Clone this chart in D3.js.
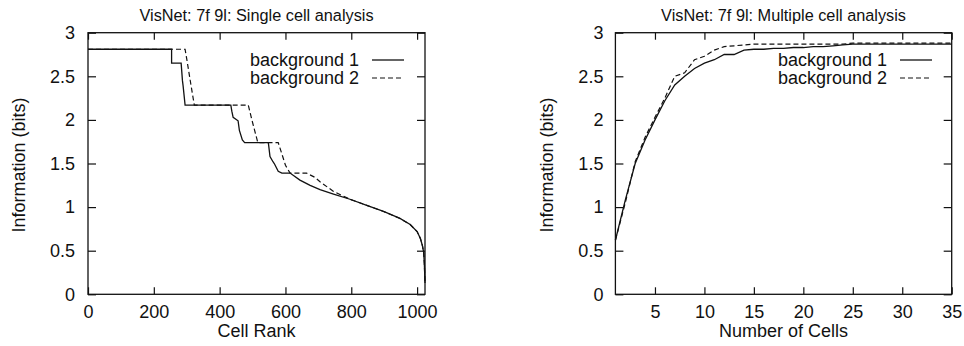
<!DOCTYPE html>
<html>
<head>
<meta charset="utf-8">
<script src="https://cdn.jsdelivr.net/npm/d3@7"></script>
<style>
  body { margin: 0; background: #fff; }
  text { font-family: "Liberation Sans", Arial, sans-serif; font-size: 18px; fill: #111; }
</style>
</head>
<body>
<svg width="964" height="346"></svg>
<script>
// single cell analysis: [cell rank, information (bits)]
var singleBg1 = [
  [0, 2.81], [254, 2.81], [254, 2.65], [283, 2.65], [287, 2.45], [289, 2.39], [295, 2.17],
  [434, 2.17], [437, 2.10], [441, 2.03], [456, 1.99], [460, 1.88], [469, 1.77], [476, 1.74],
  [548, 1.74], [553, 1.58], [562, 1.52], [566, 1.50], [578, 1.41], [589, 1.39],
  [614, 1.39], [644, 1.31], [675, 1.25], [705, 1.20], [746, 1.15], [796, 1.09],
  [847, 1.02], [898, 0.95], [948, 0.87], [979, 0.80], [1000, 0.72], [1010, 0.64],
  [1016, 0.56], [1020, 0.48], [1022, 0.35], [1024, 0.13]
];
var singleBg2 = [
  [0, 2.81], [295, 2.81], [300, 2.70], [312, 2.42], [323, 2.17],
  [487, 2.17], [498, 2.00], [516, 1.74],
  [578, 1.74], [590, 1.60], [600, 1.48], [614, 1.39],
  [664, 1.39], [690, 1.34], [705, 1.29], [746, 1.18], [796, 1.09],
  [847, 1.02], [898, 0.95], [948, 0.87], [979, 0.80], [1000, 0.72], [1010, 0.64],
  [1016, 0.56], [1020, 0.48], [1022, 0.35], [1024, 0.13]
];

// multiple cell analysis: information by number of cells (1..35)
var cellCounts = d3.range(1, 36);
var multiBg1 = [0.62, 1.08, 1.50, 1.77, 2.00, 2.22, 2.40, 2.50, 2.59, 2.65,
                2.69, 2.75, 2.75, 2.80, 2.81, 2.81, 2.82, 2.82, 2.83, 2.83,
                2.84, 2.84, 2.85, 2.86, 2.87, 2.87, 2.87, 2.87, 2.87, 2.87,
                2.87, 2.87, 2.87, 2.87, 2.87];
var multiBg2 = [0.62, 1.05, 1.52, 1.80, 2.03, 2.25, 2.50, 2.54, 2.69, 2.73,
                2.80, 2.84, 2.85, 2.86, 2.87, 2.87, 2.87, 2.87, 2.87, 2.87,
                2.87, 2.87, 2.87, 2.87, 2.88, 2.88, 2.88, 2.88, 2.88, 2.88,
                2.88, 2.88, 2.88, 2.88, 2.88];

var seriesNames = ["background 1", "background 2"];
var yTicks = [0, 0.5, 1, 1.5, 2, 2.5, 3];
var singleXTicks = [0, 200, 400, 600, 800, 1000];
var multiXTicks = [5, 10, 15, 20, 25, 30, 35];

var svg = d3.select("svg");
var fmt = function (d) { return String(d); };
var dash = "5,3";

function panel(opt) {
  var x = d3.scaleLinear().domain(opt.xDomain).range([opt.left, opt.right]);
  var y = d3.scaleLinear().domain([0, 3]).range([294.3, 32.7]);
  var g = svg.append("g");

  // inward ticks on all four sides
  g.append("g").attr("transform", "translate(0,294.3)")
    .call(d3.axisBottom(x).tickValues(opt.xTicks).tickFormat(fmt).tickSizeInner(-7).tickSizeOuter(0).tickPadding(11));
  g.append("g").attr("transform", "translate(0,32.7)")
    .call(d3.axisTop(x).tickValues(opt.xTicks).tickFormat("").tickSizeInner(-7).tickSizeOuter(0));
  g.append("g").attr("transform", "translate(" + opt.left + ",0)")
    .call(d3.axisLeft(y).tickValues(yTicks).tickFormat(fmt).tickSizeInner(-8).tickSizeOuter(0).tickPadding(opt.yPad));
  g.append("g").attr("transform", "translate(" + opt.right + ",0)")
    .call(d3.axisRight(y).tickValues(yTicks).tickFormat("").tickSizeInner(-8).tickSizeOuter(0));
  g.selectAll(".domain").remove();
  g.selectAll(".tick line").attr("stroke", "#111").attr("stroke-width", 1.2);
  g.selectAll(".tick text").style("font-size", "18px").attr("fill", "#111");

  g.append("rect")
    .attr("x", opt.left).attr("y", 32.7)
    .attr("width", opt.right - opt.left).attr("height", 294.3 - 32.7)
    .attr("fill", "none").attr("stroke", "#111").attr("stroke-width", 1.3);

  var line = d3.line().x(function (d) { return x(d[0]); }).y(function (d) { return y(d[1]); });
  g.append("path").datum(opt.s2).attr("d", line)
    .attr("fill", "none").attr("stroke", "#111").attr("stroke-width", 1.2).attr("stroke-dasharray", dash);
  g.append("path").datum(opt.s1).attr("d", line)
    .attr("fill", "none").attr("stroke", "#111").attr("stroke-width", 1.3);

  // legend
  seriesNames.forEach(function (name, i) {
    var ly = 60 + i * 18;
    g.append("text").attr("x", opt.legX).attr("y", ly).attr("dy", "0.35em")
      .attr("text-anchor", "end").text(name);
    g.append("line").attr("x1", opt.legX + 13).attr("x2", opt.legX + 45)
      .attr("y1", ly).attr("y2", ly)
      .attr("stroke", "#111").attr("stroke-width", i ? 1.2 : 1.3)
      .attr("stroke-dasharray", i ? dash : null);
  });

  var cx = (opt.left + opt.right) / 2;
  g.append("text").attr("x", cx).attr("y", 20.7).attr("text-anchor", "middle")
    .style("font-size", "16.3px").text(opt.title);
  g.append("text").attr("x", cx).attr("y", 337).attr("text-anchor", "middle").text(opt.xLabel);
  g.append("text").attr("transform", "translate(" + opt.yLabX + ",165) rotate(-90)")
    .attr("text-anchor", "middle").text("Information (bits)");
}

panel({
  left: 88, right: 425, xDomain: [0, 1024], xTicks: singleXTicks, yPad: 13,
  s1: singleBg1, s2: singleBg2, legX: 359, yLabX: 25,
  title: "VisNet: 7f 9l: Single cell analysis", xLabel: "Cell Rank"
});

panel({
  left: 615.4, right: 951.7, xDomain: [1, 35], xTicks: multiXTicks, yPad: 12,
  s1: cellCounts.map(function (c, i) { return [c, multiBg1[i]]; }),
  s2: cellCounts.map(function (c, i) { return [c, multiBg2[i]]; }),
  legX: 887, yLabX: 553,
  title: "VisNet: 7f 9l: Multiple cell analysis", xLabel: "Number of Cells"
});
</script>
</body>
</html>
